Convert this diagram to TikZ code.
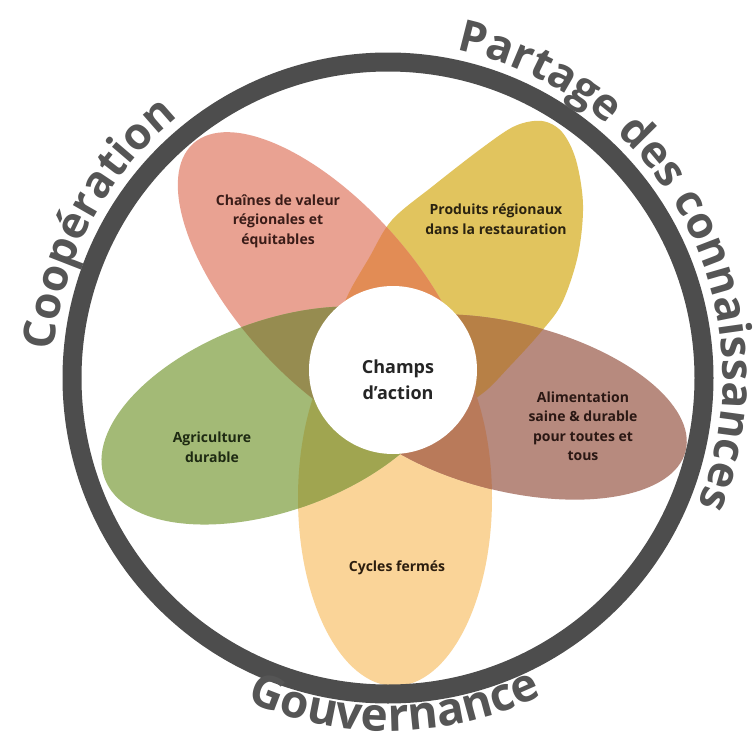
\documentclass[tikz,border=0pt]{standalone}
\usepackage{fontspec}
\setmainfont{Open Sans}
\usetikzlibrary{decorations.text}
\definecolor{cRed}{HTML}{E9A292}
\definecolor{cYel}{HTML}{E1C45E}
\definecolor{cBrn}{HTML}{B78A7E}
\definecolor{cOra}{HTML}{FAD498}
\definecolor{cGrn}{HTML}{A3BA76}
\definecolor{oRY}{HTML}{E28C55}
\definecolor{oYB}{HTML}{B78046}
\definecolor{oBO}{HTML}{B97A5A}
\definecolor{oOG}{HTML}{A0A550}
\definecolor{oGR}{HTML}{968C50}
\definecolor{ringgray}{HTML}{4D4D4D}
\definecolor{labelgray}{HTML}{555555}
\definecolor{tRed}{HTML}{3A1C18}
\definecolor{tYel}{HTML}{2A2210}
\definecolor{tBrn}{HTML}{2B1814}
\definecolor{tGrn}{HTML}{1E2A12}
\definecolor{tOra}{HTML}{2B1D0E}
\definecolor{tCen}{HTML}{252525}
\begin{document}
\begin{tikzpicture}[x=1pt,y=-1pt,
  petaltext/.style={font=\bfseries\fontsize{14}{19.5}\selectfont, align=center, inner sep=0pt},
  centertext/.style={font=\bfseries\fontsize{18}{26}\selectfont, align=center, inner sep=0pt, text=tCen},
  ringline/.style={draw=ringgray, line width=19pt},
  ringlabel/.style={decorate, decoration={text along path, text align=center, text color=labelgray, text={#1}}}
]
\useasboundingbox (0,0) rectangle (756,744);
\fill[white] (0,0) rectangle (756,744);

\def\pRed{(325,290) circle [x radius=197pt, y radius=88pt, rotate=132]}
\def\pYel{plot[smooth cycle, tension=0.55] coordinates {(483,393) (510,366) (540,333) (562,303) (578,255) (583,205) (576,160) (562,132) (542,121) (515,126) (482,148) (433,186) (392,220) (369,258) (347,297) (338,330) (380,392) (455,405)}}
\def\pBrn{(509,407) circle [x radius=182pt, y radius=84pt, rotate=-14]}
\def\pOra{(395,498) circle [x radius=188pt, y radius=97pt, rotate=90]}
\def\pGrn{(276.5,415.5) circle [x radius=183pt, y radius=95pt, rotate=200]}

% single petals
\fill[cYel] \pYel;
\fill[cOra] \pOra;
\fill[cRed] \pRed;
\fill[cBrn] \pBrn;
\fill[cGrn] \pGrn;
% overlaps
\begin{scope}\clip \pRed; \fill[oRY] \pYel; \end{scope}
\begin{scope}\clip \pYel; \fill[oYB] \pBrn; \end{scope}
\begin{scope}\clip \pBrn; \fill[oBO] \pOra; \end{scope}
\begin{scope}\clip \pOra; \fill[oOG] \pGrn; \end{scope}
\begin{scope}\clip \pGrn; \fill[oGR] \pRed; \end{scope}

% centre
\node[circle, fill=white, minimum size=168pt, inner sep=0pt] (hub) at (393,370) {};
\node[centertext] (hubtext) at (398,380) {Champs\\d’action};

% ring
\coordinate (rc) at (388,378);
\path[ringline] (rc) circle [radius=316pt];

% ring labels
\path[ringlabel={|\fontsize{44}{44}\selectfont\bfseries|Coopération}] (rc) ++(-200:335) arc[start angle=-200, end angle=-104, radius=335];
\path[ringlabel={|\fontsize{44}{44}\selectfont\bfseries|Partage des connaissances}] (rc) ++(-105:335) arc[start angle=-105, end angle=49, radius=335];
\path[ringlabel={|\fontsize{46}{46}\selectfont\bfseries|Gouvernance}] (rc) ++(140:353) arc[start angle=140, end angle=37.6, radius=353];

% petal labels
\node[petaltext, text=tRed] (lRed) at (278,221) {Chaînes de valeur\\régionales et\\équitables};
\node[petaltext, text=tYel] (lYel) at (496,219) {Produits régionaux\\dans la restauration};
\node[petaltext, text=tBrn] (lBrn) at (583,426) {Alimentation\\saine \& durable\\pour toutes et\\tous};
\node[petaltext, text=tGrn] (lGrn) at (212,447) {Agriculture\\durable};
\node[petaltext, text=tOra] (lOra) at (397,568) {Cycles fermés};
\end{tikzpicture}
\end{document}
